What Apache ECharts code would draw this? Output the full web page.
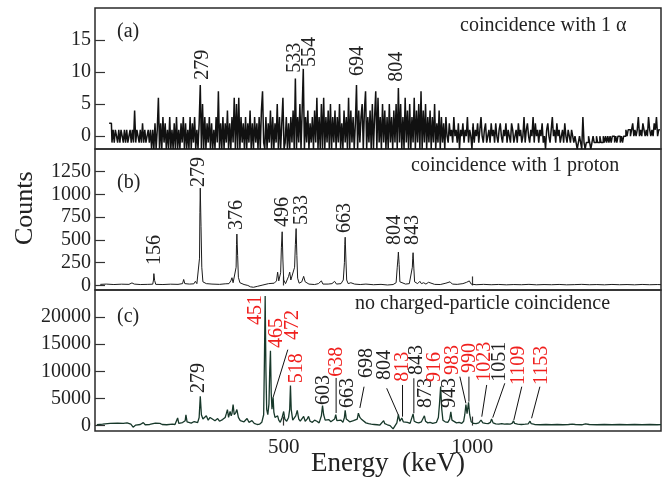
<!DOCTYPE html>
<html>
<head>
<meta charset="utf-8">
<script src="https://cdn.jsdelivr.net/npm/echarts@6/dist/echarts.min.js"></script>
<style>
  html, body { margin: 0; padding: 0; background: #fff; }
  #chart { width: 670px; height: 481px; }
</style>
</head>
<body>
<div id="chart"></div>
<script>
// ---- spectra -------------------------------------------------------------
// (a) alpha-gated spectrum, 3 keV bins starting at 36 keV
const alphaStart = 36;
const alphaBin = 3;
const alphaCounts = [
  2,2,2,-1,1,-1,1,0,-1,1,-1,1,0,-1,1,-1,1,-1,0,1,
  -1,1,-1,4,-1,1,0,-1,1,-1,2,-1,1,-1,0,1,-1,1,-2,1,
  -2,2,-2,1,6,-2,2,-2,3,-1,2,-2,1,-2,3,-2,1,-2,2,-2,
  3,-2,1,-2,2,-1,3,-2,2,-2,1,-2,3,-2,2,-1,3,-2,1,-2,
  2,8,-2,5,-2,3,-2,2,-1,3,-2,2,-2,1,-2,3,-1,7,-2,2,
  -2,3,-2,2,-1,4,-2,2,-2,3,-1,6,-2,5,-2,6,-2,3,-1,2,
  -2,3,-2,2,-1,4,-2,2,-2,3,-1,2,-2,3,-2,4,7,-1,-2,3,
  -2,2,-1,4,-2,3,-2,2,-1,5,-2,3,-2,2,6,-2,-1,3,-2,2,
  -2,3,-1,4,-2,9,-2,3,-1,5,-2,4,10.5,-2,3,-1,4,-2,2,-1,
  3,-2,4,-1,6,-2,3,-2,5,-2,6,-2,3,-1,4,-2,5,-2,3,-1,
  4,-2,3,-1,5,-2,2,-2,4,-1,3,-2,6,-2,4,-1,3,-2,2,8,
  -2,4,-1,3,5,-2,4,7,-2,3,-1,4,-2,5,-2,3,7,-2,6,-1,
  3,-2,5,-1,4,-2,3,-2,5,-1,3,-2,4,-1,5,-2,7.5,-1,5,-2,
  3,-2,6,-1,4,-2,5,-2,3,-1,6,-2,4,-1,5,-2,7,-2,4,-1,
  5,-2,3,-1,4,-2,3,-1,5,-2,2,-1,4,-2,3,-1,2,-2,3,0,
  -1,2,0,1,-1,3,0,1,-1,2,-2,1,0,2,-1,1,0,3,-1,1,
  0,-2,2,-1,1,0,2,-1,1,3,0,-1,1,2,-1,0,1,-1,2,0,
  1,-1,2,0,-1,1,2,0,-1,1,0,2,-1,1,0,-1,2,1,-1,0,
  1,-1,2,0,1,-1,0,3,-1,1,2,0,-1,1,0,3,-1,2,0,1,
  -1,1,0,2,-1,0,-2,1,2,0,-1,1,3,0,1,-1,2,0,1,-1,
  0,1,-1,2,0,-1,1,0,-1,1,0,-1,0,-1,-2,-1,0,-1,-2,3,
  -1,-2,-1,-1,0,-1,-2,-1,0,-1,-1,0,-1,-1,0,-1,-1,0,-1,0,
  -1,0,-1,0,-1,0,0,-1,0,-1,0,0,-1,0,-1,0,0,1,0,1,
  1,0,1,2,0,1,0,1,3,0,1,0,2,1,0,1,0,3,1,0,
  1,0,2,1,3,0,1,1
];

// (b) proton-gated spectrum, [energy keV, counts]
const protonSpectrum = [
  [14,12],[30,15],[50,10],[70,14],[90,12],[98,28],[101,45],[104,15],[120,10],[140,12],
  [153,14],[155,60],[156,130],[158,55],[161,12],[180,10],[200,14],[220,12],[232,20],[235,66],
  [238,20],[250,15],[262,18],[266,45],[270,20],[275,40],[277,300],[278,800],[279,1070],[281,650],
  [283,200],[286,40],[295,20],[310,15],[330,12],[345,18],[355,20],[360,50],[363,85],[366,30],
  [371,30],[374,200],[375,450],[376,565],[378,330],[380,90],[384,30],[395,10],[405,0],[412,-15],
  [420,-20],[430,-10],[445,5],[460,20],[475,25],[481,50],[484,146],[487,50],[492,140],[494,420],
  [496,590],[498,280],[500,60],[505,20],[510,40],[513,100],[516,146],[519,60],[524,40],[529,200],
  [531,450],[533,625],[535,330],[537,80],[541,25],[548,40],[553,100],[557,40],[567,15],[582,10],
  [592,20],[600,50],[604,15],[618,15],[628,20],[635,45],[640,15],[652,20],[658,60],[661,250],
  [662,450],[663,530],[665,280],[667,60],[671,20],[678,30],[683,45],[688,15],[703,10],[718,15],
  [738,8],[758,12],[775,5],[790,10],[798,30],[801,200],[803,300],[804,367],[806,230],[808,40],
  [813,20],[823,15],[833,20],[838,40],[841,200],[842,300],[843,360],[845,190],[847,40],[851,60],
  [855,20],[861,45],[865,20],[871,30],[877,15],[884,35],[889,15],[900,12],[915,10],[930,25],
  [941,40],[947,15],[960,12],[975,20],[985,35],[992,50],[997,15],[1010,8],[1030,12],[1050,8],
  [1070,11],[1090,7],[1110,10],[1130,8],[1150,12],[1170,7],[1190,10],[1210,8],[1230,11],[1250,7],
  [1270,9],[1290,12],[1310,8],[1330,10],[1350,7],[1370,11],[1390,8],[1410,10],[1430,7],[1450,11],
  [1470,8],[1490,10],[1500,9]
];

// (c) spectrum without charged-particle coincidence, [energy keV, counts]
const noCoinSpectrum = [
  [5,150],[20,250],[40,400],[60,450],[75,400],[85,500],[95,250],[101,-300],[108,100],[120,200],
  [128,550],[133,150],[145,200],[160,450],[165,200],[172,400],[178,200],[190,150],[205,250],[212,200],
  [217,500],[219,1400],[222,400],[232,550],[239,900],[241,2000],[244,700],[255,450],[263,750],[268,950],
  [272,550],[276,1500],[279,5400],[282,2000],[286,1200],[290,1500],[295,1800],[300,1000],[305,1500],[310,1200],
  [318,900],[325,1300],[330,800],[338,1100],[345,1500],[348,2200],[351,2950],[354,1500],[358,2600],[361,1800],
  [363,2200],[366,3860],[369,2000],[373,2400],[376,2950],[380,1500],[385,900],[389,1200],[395,700],[403,1300],
  [408,600],[416,900],[422,400],[430,200],[436,250],[442,600],[447,2000],[449,12000],[451,23900],[453,10000],
  [455,3000],[458,2000],[461,4000],[463,10000],[465,13800],[467,6000],[469,3000],[471,4500],[472,5200],[474,2500],
  [477,1500],[480,1200],[484,1800],[487,1000],[491,600],[496,1500],[500,2600],[503,1200],[508,800],[513,1500],
  [516,3000],[518,7400],[520,3000],[524,1000],[528,1200],[532,1800],[536,2800],[540,1200],[544,800],[548,1000],
  [553,1700],[557,800],[562,1200],[566,1700],[570,800],[576,600],[582,1000],[588,800],[594,500],[600,1800],
  [603,3680],[606,2000],[610,1000],[615,800],[620,1100],[625,700],[630,900],[635,1200],[638,2000],[641,900],
  [646,800],[652,1000],[657,600],[661,1500],[663,2800],[666,1200],[670,900],[675,700],[680,1000],[685,900],
  [690,700],[695,1200],[698,2300],[702,1500],[707,1100],[712,800],[718,500],[725,350],[732,250],[740,200],
  [748,150],[755,100],[760,350],[765,900],[768,350],[775,150],[782,0],[790,-600],[795,-400],[800,500],
  [804,2000],[808,800],[813,1400],[817,700],[822,500],[828,600],[835,400],[840,700],[843,2150],[846,800],
  [852,600],[858,500],[865,700],[870,900],[873,1800],[876,800],[882,500],[888,600],[895,400],[900,500],
  [905,600],[910,1500],[913,4000],[916,7200],[919,3000],[922,1000],[928,700],[935,600],[940,1200],[943,2550],
  [946,1000],[950,700],[958,500],[965,600],[972,400],[977,800],[980,2000],[983,3860],[986,2200],[988,2500],
  [990,4300],[993,2000],[997,700],[1003,400],[1010,350],[1017,500],[1023,1000],[1028,500],[1035,400],[1042,350],
  [1048,600],[1051,1200],[1055,500],[1062,300],[1070,250],[1078,350],[1085,250],[1092,300],[1100,250],[1106,450],
  [1109,900],[1112,400],[1120,250],[1130,200],[1140,250],[1148,300],[1153,800],[1156,350],[1165,200],[1180,150],
  [1195,200],[1210,150],[1225,200],[1240,150],[1255,200],[1265,250],[1269,450],[1273,200],[1290,150],[1300,300],
  [1305,450],[1310,200],[1330,150],[1350,200],[1370,150],[1390,200],[1410,150],[1430,200],[1450,150],[1470,200],
  [1490,150],[1500,170]
];

// ---- axes ----------------------------------------------------------------
const energyTicks = [500, 1000];
const alphaTicks = [0, 5, 10, 15];
const protonTicks = [0, 250, 500, 750, 1000, 1250];
const noCoinTicks = [0, 5000, 10000, 15000, 20000];

// ---- peak annotations: text, label foot [keV, counts], optional leader --
const alphaPeakLabels = ['279', '533', '554', '694', '804'];
const alphaLabelFoot = [[286, 8.8], [530, 9.9], [570, 10.8], [697, 9.4], [800, 8.5]];

const protonPeakLabels = ['156', '279', '376', '496', '533', '663', '804', '843'];
const protonLabelFoot = [[159, 225], [276, 1083], [375, 610], [497, 643], [548, 665], [662, 577], [795, 445], [843, 445]];

const noCoinPeakLabels = ['279', '451', '465', '472', '518', '603', '638', '663', '698', '804', '813',
  '843', '873', '916', '943', '983', '990', '1023', '1051', '1109', '1153'];
const newTransitions = ['451', '465', '472', '518', '638', '813', '916', '983', '990', '1023', '1109', '1153'];
const noCoinLabelFoot = [[276, 6010], [426, 18550], [481, 14300], [524, 15800], [534, 7800], [605, 3800],
  [640, 9000], [671, 3250], [720, 8780], [768, 8400], [815, 8100], [852, 9330], [877, 3250], [901, 8040],
  [941, 3250], [948, 9330], [994, 9700], [1034, 8100], [1073, 8100], [1124, 7490], [1184, 7490]];
const noCoinLeaders = {
  '472': [[511, 14000], [472, 5200]],
  '638': [[639, 8780], [639, 2320]],
  '698': [[713, 7170], [702, 3250]],
  '804': [[773, 6880], [804, 1950]],
  '813': [[815, 7490], [815, 1640]],
  '843': [[845, 8720], [845, 2270]],
  '983': [[967, 9020], [983, 4110]],
  '990': [[991, 9020], [991, 4410]],
  '1023': [[1038, 7490], [1025, 1640]],
  '1051': [[1086, 7800], [1054, 1460]],
  '1109': [[1131, 7170], [1110, 1030]],
  '1153': [[1179, 7170], [1157, 1350]]
};

// ---- rendering -----------------------------------------------------------
const SERIF = '"Liberation Serif", "Times New Roman", serif';
const INK = '#222';
const RED = '#f0201e';

const chart = echarts.init(document.getElementById('chart'), null, { renderer: 'canvas' });

const gridBox = { left: 95, width: 566, show: true, borderColor: '#2a2a2a', borderWidth: 1.5, backgroundColor: 'transparent' };
const grids = [
  Object.assign({ top: 8, height: 141 }, gridBox),
  Object.assign({ top: 149, height: 141 }, gridBox),
  Object.assign({ top: 290, height: 141 }, gridBox)
];

const plainNumber = v => String(v);

function xAxisFor(i, withLabels) {
  return {
    type: 'value', gridIndex: i, min: 0, max: 1500,
    axisLine: { show: false },
    splitLine: { show: false },
    axisTick: { show: true, inside: true, length: 9, customValues: energyTicks, lineStyle: { color: '#333', width: 1.2 } },
    axisLabel: withLabels
      ? { show: true, customValues: energyTicks, formatter: plainNumber, fontFamily: SERIF, fontSize: 21, color: INK, margin: 6 }
      : { show: false }
  };
}

function yAxisFor(i, min, max, ticks) {
  return {
    type: 'value', gridIndex: i, min: min, max: max,
    axisLine: { show: false },
    splitLine: { show: false },
    axisTick: { show: true, inside: true, length: 10, customValues: ticks, lineStyle: { color: '#333', width: 1.2 } },
    axisLabel: { show: true, customValues: ticks, formatter: plainNumber, fontFamily: SERIF, fontSize: 20, color: INK, margin: 4 }
  };
}

function labelSeries(idx, texts, feet, leaders, colorOf) {
  return {
    type: 'custom', xAxisIndex: idx, yAxisIndex: idx,
    coordinateSystem: 'cartesian2d', clip: false, silent: true, z: 5,
    data: feet,
    renderItem: function (params, api) {
      const text = texts[params.dataIndex];
      const foot = api.coord([api.value(0), api.value(1)]);
      const children = [{
        type: 'text', x: foot[0], y: foot[1], rotation: Math.PI / 2,
        style: { text: text, fill: colorOf(text), font: '20px ' + SERIF, align: 'left', verticalAlign: 'middle' }
      }];
      const lead = leaders && leaders[text];
      if (lead) {
        const p1 = api.coord(lead[0]);
        const p2 = api.coord(lead[1]);
        children.push({
          type: 'line', shape: { x1: p1[0], y1: p1[1], x2: p2[0], y2: p2[1] },
          style: { stroke: '#111', lineWidth: 1 }
        });
      }
      return { type: 'group', children: children };
    }
  };
}

const alphaData = alphaCounts.map((v, i) => [alphaStart + alphaBin * i + alphaBin / 2, v]);

const option = {
  animation: false,
  backgroundColor: '#fff',
  grid: grids,
  xAxis: [xAxisFor(0, false), xAxisFor(1, false), xAxisFor(2, true)],
  yAxis: [
    yAxisFor(0, -2, 20, alphaTicks),
    yAxisFor(1, -50, 1500, protonTicks),
    yAxisFor(2, -1000, 25000, noCoinTicks)
  ],
  series: [
    {
      type: 'line', xAxisIndex: 0, yAxisIndex: 0, data: alphaData, step: 'middle',
      symbol: 'none', clip: true, lineStyle: { color: '#111', width: 1.5 }
    },
    {
      type: 'line', xAxisIndex: 1, yAxisIndex: 1, data: protonSpectrum,
      symbol: 'none', clip: true, lineStyle: { color: '#1c1c1c', width: 1 }
    },
    {
      type: 'line', xAxisIndex: 2, yAxisIndex: 2, data: noCoinSpectrum,
      symbol: 'none', clip: true, lineStyle: { color: '#17382a', width: 1.3 }
    },
    labelSeries(0, alphaPeakLabels, alphaLabelFoot, null, () => INK),
    labelSeries(1, protonPeakLabels, protonLabelFoot, null, () => INK),
    labelSeries(2, noCoinPeakLabels, noCoinLabelFoot, noCoinLeaders,
      t => newTransitions.indexOf(t) >= 0 ? RED : INK)
  ],
  graphic: [
    { type: 'text', left: 117, top: 22, style: { text: '(a)', font: '20px ' + SERIF, fill: INK } },
    { type: 'text', left: 117, top: 173, style: { text: '(b)', font: '20px ' + SERIF, fill: INK } },
    { type: 'text', left: 117, top: 307, style: { text: '(c)', font: '20px ' + SERIF, fill: INK } },
    { type: 'text', left: 460, top: 16, style: { text: 'coincidence with 1 \u03b1', font: '20px ' + SERIF, fill: INK } },
    { type: 'text', left: 411, top: 156, style: { text: 'coincidence with 1 proton', font: '20px ' + SERIF, fill: INK } },
    { type: 'text', left: 355, top: 294, style: { text: 'no charged-particle coincidence', font: '20px ' + SERIF, fill: INK } },
    { type: 'text', left: 311, top: 450, style: { text: 'Energy  (keV)', font: '27px ' + SERIF, fill: INK } },
    {
      type: 'text', x: 25, y: 245, rotation: Math.PI / 2,
      style: { text: 'Counts', font: '26px ' + SERIF, fill: INK, align: 'left', verticalAlign: 'middle' }
    }
  ]
};

chart.setOption(option);
</script>
</body>
</html>
